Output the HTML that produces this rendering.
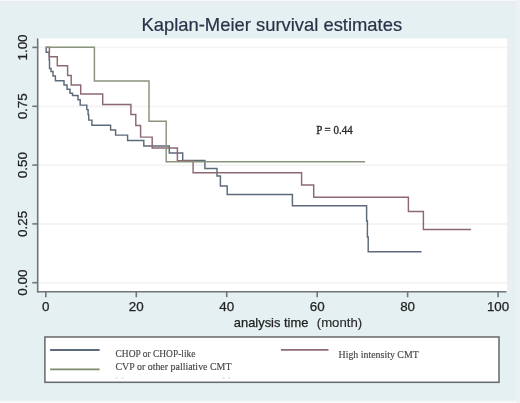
<!DOCTYPE html>
<html><head><meta charset="utf-8">
<style>
html,body{margin:0;padding:0;background:#e4f0f1;}
body{width:520px;height:403px;overflow:hidden;}
svg{display:block;filter:blur(0.3px);}
</style></head>
<body>
<svg width="520" height="403" viewBox="0 0 520 403">
<rect x="0" y="0" width="520" height="403" fill="#e4f0f1"/>
<rect x="0" y="0" width="520" height="1" fill="#f6f9fa"/>
<rect x="0" y="1" width="520" height="4.3" fill="#eaedf0"/>
<rect x="0" y="400.5" width="520" height="0.8" fill="#f1f4f5"/>
<rect x="0" y="401.3" width="520" height="1.7" fill="#f9fafb"/>
<rect x="507" y="38" width="4" height="254" fill="#ebeff1"/>
<rect x="516.5" y="0" width="3.5" height="403" fill="#edf2f4"/>
<!-- title -->
<text x="271.8" y="31.2" text-anchor="middle" font-family="'Liberation Sans', sans-serif" font-size="18.4" fill="#283248" stroke="#283248" stroke-width="0.2">Kaplan-Meier survival estimates</text>
<!-- plot region -->
<rect x="38" y="38.4" width="469" height="253" fill="#ffffff"/>
<g stroke="#f4f4f4" stroke-width="1.8">
<line x1="38" y1="47.4" x2="507" y2="47.4"/>
<line x1="38" y1="106.3" x2="507" y2="106.3"/>
<line x1="38" y1="165.1" x2="507" y2="165.1"/>
<line x1="38" y1="224" x2="507" y2="224"/>
<line x1="38" y1="282.8" x2="507" y2="282.8"/>
</g>
<!-- axes -->
<g stroke="#707579" stroke-width="1.6" fill="none">
<line x1="37.7" y1="38.5" x2="37.7" y2="292.6"/>
<line x1="37.1" y1="291.8" x2="506.5" y2="291.8"/>
<line x1="32.3" y1="47.4" x2="37.7" y2="47.4"/>
<line x1="32.3" y1="106.3" x2="37.7" y2="106.3"/>
<line x1="32.3" y1="165.1" x2="37.7" y2="165.1"/>
<line x1="32.3" y1="223.9" x2="37.7" y2="223.9"/>
<line x1="32.3" y1="282.7" x2="37.7" y2="282.7"/>
<line x1="45.8" y1="291.8" x2="45.8" y2="297.2"/>
<line x1="136.3" y1="291.8" x2="136.3" y2="297.2"/>
<line x1="226.7" y1="291.8" x2="226.7" y2="297.2"/>
<line x1="317.2" y1="291.8" x2="317.2" y2="297.2"/>
<line x1="407.6" y1="291.8" x2="407.6" y2="297.2"/>
<line x1="498.1" y1="291.8" x2="498.1" y2="297.2"/>
</g>
<g font-family="'Liberation Sans', sans-serif" font-size="13.4" fill="#222" stroke="#222" stroke-width="0.25" text-anchor="middle">
<text transform="translate(26.8,47.5) rotate(-90)">1.00</text>
<text transform="translate(26.8,106.3) rotate(-90)">0.75</text>
<text transform="translate(26.8,165.1) rotate(-90)">0.50</text>
<text transform="translate(26.8,223.9) rotate(-90)">0.25</text>
<text transform="translate(26.8,282.7) rotate(-90)">0.00</text>
<text x="45.8" y="311">0</text>
<text x="136.3" y="311">20</text>
<text x="226.7" y="311">40</text>
<text x="317.2" y="311">60</text>
<text x="407.6" y="311">80</text>
<text x="498.1" y="311">100</text>
</g>
<text x="233.8" y="326.7" font-family="'Liberation Sans', sans-serif" font-size="13.2" fill="#222" stroke="#222" stroke-width="0.25" textLength="74.6" lengthAdjust="spacingAndGlyphs">analysis time</text>
<text x="316.8" y="326.9" font-family="'Liberation Sans', sans-serif" font-size="12.3" fill="#2a2a2a" stroke="#2a2a2a" stroke-width="0.15" textLength="45.3" lengthAdjust="spacingAndGlyphs">(month)</text>
<!-- P value -->
<text x="316.2" y="134" font-family="'Liberation Serif', serif" font-size="12" fill="#2a2a2a" stroke="#2a2a2a" stroke-width="0.35" textLength="36.4" lengthAdjust="spacingAndGlyphs">P = 0.44</text>
<!-- curves -->
<g fill="none" stroke-width="1.45" stroke-linejoin="miter">
<path stroke="#5d6a7a" d="M46.2,47.3 V52.2 H49.2 V60 H49.5 V68.5 H51 V71.5 H53 V76 H55.4 V80.7 H64 V85 H67 V89.3 H70 V93.3 H72.5 V95.5 H78 V99.7 H80.2 V105.1 H86.8 V109.6 H88.1 V114.5 H88.7 V120.1 H91.9 V125.2 H110.6 V129.9 H115.6 V135.1 H127.6 V140.5 H143.8 V146 H169.3 V153 H182.7 V160.4 H204.9 V168.4 H217 V176 H220.4 V186 H227.2 V194.5 H292.4 V205.7 H366.6 V221 H367.4 V237 H368.2 V251.8 H421.5"/>
<path stroke="#8c6972" d="M46,47.3 H49.4 V56.7 H57.3 V65.8 H67.6 V75.4 H71.2 V84.9 H80.7 V94 H102.7 V104.5 H130.9 V114.4 H135.8 V125.5 H140.6 V137.1 H152.2 V148 H177.4 V160.8 H193.1 V172.8 H301.6 V185 H313.7 V197.3 H408.4 V211.4 H423.4 V229.5 H471"/>
<path stroke="#89937c" d="M45.5,47.3 H94.4 V80.9 H149 V121.2 H166.2 V161.8 H365"/>
</g>
<!-- legend -->
<rect x="44.9" y="337" width="454.1" height="45.3" fill="#fff" stroke="#696b6e" stroke-width="1.55"/>
<line x1="50.1" y1="350" x2="99.6" y2="350" stroke="#5d6a7a" stroke-width="1.8"/>
<line x1="50.1" y1="369.4" x2="99.6" y2="369.4" stroke="#7f8a6c" stroke-width="1.8"/>
<line x1="280.9" y1="349.9" x2="328.5" y2="349.9" stroke="#8e6c74" stroke-width="1.7"/>
<g font-family="'Liberation Serif', serif" font-size="10.3" fill="#474747" stroke="#474747" stroke-width="0.15">
<text x="115.5" y="356.9" textLength="80" lengthAdjust="spacingAndGlyphs">CHOP or CHOP-like</text>
<text x="115.5" y="370.4" textLength="116" lengthAdjust="spacingAndGlyphs">CVP or other palliative CMT</text>
<text x="338.5" y="358.3" textLength="80.3" lengthAdjust="spacingAndGlyphs">High intensity CMT</text>
</g>
<g fill="#d8d8d8"><rect x="115.5" y="377.3" width="2" height="1.2"/><rect x="121.5" y="377.3" width="2" height="1.2"/><rect x="222.5" y="377.3" width="2" height="1.2"/><rect x="228" y="377.3" width="2" height="1.2"/></g>
</svg>
</body></html>
